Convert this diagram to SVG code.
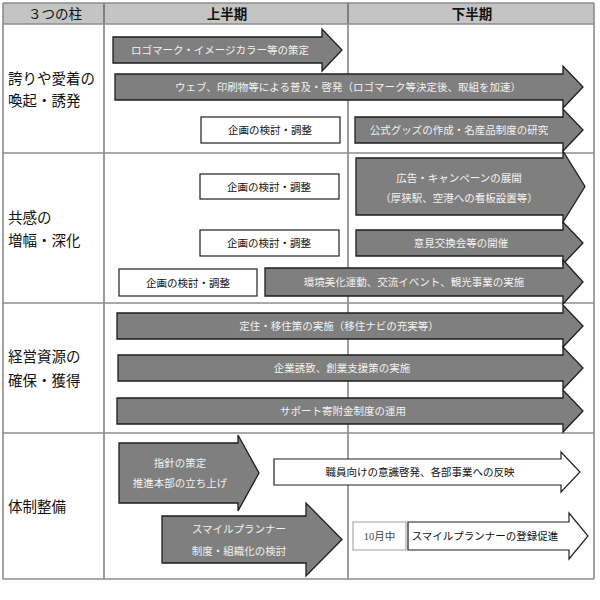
<svg xmlns="http://www.w3.org/2000/svg" width="600" height="600" viewBox="0 0 600 600">
<defs>
<style>
text{font-family:"Noto Sans CJK JP","Noto Sans CJK SC",sans-serif}
.hdr{font-size:13.5px;fill:#111;text-anchor:middle}
.hb{font-weight:bold}
.ttl{font-size:14.5px;fill:#111}
.lbl{font-size:10.5px;fill:#f2f2f2;text-anchor:middle}
.blk{font-size:10.5px;fill:#111;text-anchor:middle}
.ga{fill:#7f7f7f;stroke:#1e1e1e;stroke-width:1.3;stroke-linejoin:miter}
.wa{fill:#fff;stroke:#1e1e1e;stroke-width:1.2}
.box{fill:#fff;stroke:#1e1e1e;stroke-width:1.2}
.hl{stroke:#8c8c8c;stroke-width:1.6;fill:none}
.vl{stroke:#3a3a3a;stroke-width:1;fill:none}
</style>
</defs>
<rect width="600" height="600" fill="#fff"/>
<g id="table">
<rect x="3" y="3" width="591" height="21" fill="#c4c4c4"/>
<line class="vl" x1="104" y1="3" x2="104" y2="579"/>
<line class="vl" x1="348" y1="3" x2="348" y2="579"/>
<line class="hl" x1="3" y1="3" x2="594" y2="3"/>
<line class="hl" x1="3" y1="24" x2="594" y2="24"/>
<line class="hl" x1="3" y1="153" x2="594" y2="153"/>
<line class="hl" x1="3" y1="303" x2="594" y2="303"/>
<line class="hl" x1="3" y1="433" x2="594" y2="433"/>
<line class="hl" x1="3" y1="579" x2="594" y2="579"/>
<line class="hl" x1="3" y1="3" x2="3" y2="579"/>
<line class="hl" x1="594" y1="3" x2="594" y2="579"/>
<text class="hdr" x="55" y="18.5">３つの柱</text>
<text class="hdr hb" x="227" y="18.5">上半期</text>
<text class="hdr hb" x="472" y="18.5">下半期</text>
<text class="ttl" x="8" y="84">誇りや愛着の</text>
<text class="ttl" x="8" y="106">喚起・誘発</text>
<text class="ttl" x="8" y="223">共感の</text>
<text class="ttl" x="8" y="246">増幅・深化</text>
<text class="ttl" x="8" y="362">経営資源の</text>
<text class="ttl" x="8" y="386">確保・獲得</text>
<text class="ttl" x="8" y="512">体制整備</text>
</g>
<g id="connectors">
<g id="a1"><path class="ga" d="M113,37H322V29L342,50L322,71V63H113Z"/><text class="lbl" x="220" y="54">ロゴマーク・イメージカラー等の策定</text></g>
<g id="a2"><path class="ga" d="M115,74H563V66L583,87L563,108V100H115Z"/><text class="lbl" x="348" y="91">ウェブ、印刷物等による普及・啓発（ロゴマーク等決定後、取組を加速）</text></g>
<g id="a3"><path class="ga" d="M355,117H563V109L583,130L563,151V143H355Z"/><text class="lbl" x="459" y="134">公式グッズの作成・名産品制度の研究</text></g>
<g id="a4"><path class="ga" d="M356,158H563V151L585,186.5L563,222V215H356Z"/><text class="lbl" x="459" y="181.5">広告・キャンペーンの展開</text><text class="lbl" x="459" y="201.5">（厚狭駅、空港への看板設置等）</text></g>
<g id="a5"><path class="ga" d="M356,230H563V222L583,243L563,264V256H356Z"/><text class="lbl" x="461" y="247">意見交換会等の開催</text></g>
<g id="a6"><path class="ga" d="M265,268H563V260L583,282L563,304V296H265Z"/><text class="lbl" x="414" y="286">環境美化運動、交流イベント、観光事業の実施</text></g>
<g id="a7"><path class="ga" d="M117,313H563V305L583,326L563,347V339H117Z"/><text class="lbl" x="339" y="330">定住・移住策の実施（移住ナビの充実等）</text></g>
<g id="a8"><path class="ga" d="M118,355H563V347L583,368L563,389V381H118Z"/><text class="lbl" x="342" y="372">企業誘致、創業支援策の実施</text></g>
<g id="a9"><path class="ga" d="M117,398H563V390L583,411L563,432V424H117Z"/><text class="lbl" x="343" y="415">サポート寄附金制度の運用</text></g>
<g id="a10"><path class="ga" d="M119,443H238V435L259,473L238,511V503H119Z"/><text class="lbl" x="180" y="467">指針の策定</text><text class="lbl" x="180" y="487">推進本部の立ち上げ</text></g>
<g id="a11"><path class="wa" d="M274,459H561V452L580,472L561,492V485H274Z"/><text class="blk" x="420" y="476">職員向けの意識啓発、各部事業への反映</text></g>
<g id="a12"><path class="ga" d="M162,516H306V503L342,539.5L306,576V563H162Z"/><text class="lbl" x="239" y="533">スマイルプランナー</text><text class="lbl" x="239" y="555">制度・組織化の検討</text></g>
<g id="a13"><path class="wa" d="M408,522H569V513L588,536L569,559V550H408Z"/><text class="blk" x="485" y="540">スマイルプランナーの登録促進</text></g>
</g>
<g id="box1"><rect class="box" x="201" y="117" width="139" height="26"/><text class="blk" x="270" y="134">企画の検討・調整</text></g>
<g id="box2"><rect class="box" x="200" y="174" width="139" height="25"/><text class="blk" x="269" y="190.5">企画の検討・調整</text></g>
<g id="box3"><rect class="box" x="200" y="230" width="139" height="26"/><text class="blk" x="269" y="247">企画の検討・調整</text></g>
<g id="box4"><rect class="box" x="119" y="269" width="138" height="27"/><text class="blk" x="188" y="286.5">企画の検討・調整</text></g>
<g id="box5"><rect x="353" y="522" width="53" height="28" fill="#fff" stroke="#9a9a9a" stroke-width="1"/><text x="379.5" y="540" font-size="10.5" fill="#444" text-anchor="middle" style="font-family:'Liberation Serif','Noto Sans CJK JP',serif">10月中</text></g>
</svg>
